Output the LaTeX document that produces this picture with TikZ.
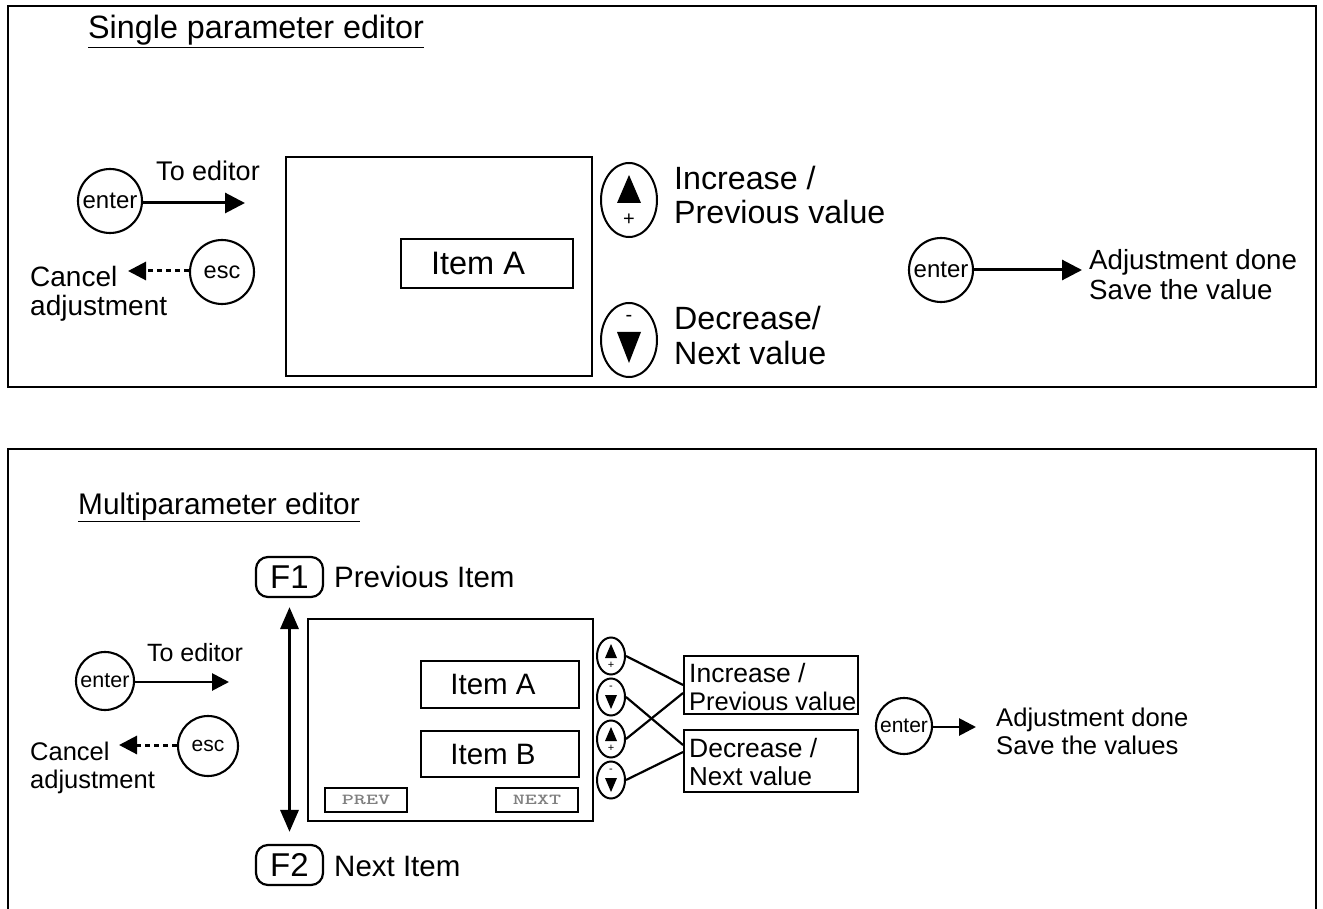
\documentclass[tikz,border=0pt]{standalone}
\usepackage{fontspec}
\setmainfont{Liberation Sans}
\usetikzlibrary{arrows.meta,shapes.geometric,calc}
\newcommand\fsz[2]{\fontsize{#1}{#2}\selectfont}
\begin{document}
\begin{tikzpicture}[x=1pt,y=-1pt,
  frame/.style={draw,line width=2.2pt},
  box/.style={draw,line width=1.9pt,inner sep=0pt},
  btn/.style={circle,draw,line width=2.1pt,inner sep=0pt},
  oval/.style={ellipse,draw,line width=2pt,inner sep=0pt},
  fkey/.style={draw,rounded corners=12pt,line width=2.2pt,inner sep=0pt,minimum width=67pt,minimum height=40pt},
  txt/.style={inner sep=0pt},
  arr/.style={line width=3pt,-{Triangle[length=20pt,width=20pt]}},
  sarr/.style={line width=2.8pt,-{Triangle[length=17pt,width=17pt]}},
  darr/.style={line width=3pt,dash pattern=on 5pt off 4pt,-{Triangle[length=18pt,width=18pt]}},
  dblarr/.style={line width=3.4pt,{Triangle[length=22pt,width=18pt]}-{Triangle[length=22pt,width=18pt]}},
  link/.style={line width=2.2pt},
  lcd/.style={draw,line width=1.5pt,minimum width=82pt,minimum height=24pt,inner sep=0pt,font=\ttfamily\bfseries\fsz{17}{17},text=black!50}
]
\useasboundingbox (0,0) rectangle (1323,909);
\fill[white] (0,0) rectangle (1323,909);

%% ---------------- Single parameter editor ----------------
\draw[frame] (8,6) rectangle (1316,387);
\node[txt,anchor=base west] (t1) at (88,39) {\fsz{32.3}{34}\underline{Single parameter editor}};

\node[btn,minimum size=64pt] (en1) at (110,201) {\fsz{24}{26}enter};
\coordinate (en1end) at (245,203);
\draw[arr] (en1.east |- en1end) -- (en1end);
\node[txt,anchor=base] (toed1) at (208,181) {\fsz{27}{29}To editor};

\node[btn,minimum size=64pt] (esc1) at (222,272) {\fsz{23.5}{25}esc};
\coordinate (esc1end) at (128,271);
\draw[darr] (esc1.west |- esc1end) -- (esc1end);
\node[txt,anchor=base west] (can1a) at (30,287) {\fsz{28}{30}Cancel};
\node[txt,anchor=base west] (can1b) at (30,316) {\fsz{28}{30}adjustment};

\node[box,anchor=north west,minimum width=306pt,minimum height=219pt] (scr1) at (285,156) {};
\node[box,minimum width=172pt,minimum height=49pt] (ia1) at (487,263.5) {\hspace*{-18pt}\fsz{32.5}{34}Item A};

\node[oval,minimum width=56pt,minimum height=74pt] (up1) at (629,200) {};
\fill ($(up1)+(-12,3)$) -- ($(up1)+(12,3)$) -- ($(up1)+(0,-25)$) -- cycle;
\node[txt] (up1p) at ($(up1)+(0,20)$) {\fsz{20}{20}+};
\node[oval,minimum width=56pt,minimum height=74pt] (dn1) at (629,340) {};
\fill ($(dn1)+(-12,-8)$) -- ($(dn1)+(12,-8)$) -- ($(dn1)+(0,23)$) -- cycle;
\node[txt] (dn1m) at ($(dn1)+(0,-22)$) {\fsz{20}{20}-};

\node[txt,anchor=base west] (inc1a) at (674,190) {\fsz{32.2}{34}Increase /};
\node[txt,anchor=base west] (inc1b) at (674,224) {\fsz{32.2}{34}Previous value};
\node[txt,anchor=base west] (dec1a) at (674,330) {\fsz{32.2}{34}Decrease/};
\node[txt,anchor=base west] (dec1b) at (674,364) {\fsz{32.2}{34}Next value};

\node[btn,minimum size=64pt] (en2) at (941,270) {\fsz{24}{26}enter};
\coordinate (en2end) at (1082,270);
\draw[arr] (en2) -- (en2end);
\node[txt,anchor=base west] (adj1a) at (1089,270) {\fsz{27.7}{30}Adjustment done};
\node[txt,anchor=base west] (adj1b) at (1089,300) {\fsz{27.7}{30}Save the value};

%% ---------------- Multiparameter editor ----------------
\draw[frame] (8,915) -- (8,449) -- (1316,449) -- (1316,915);
\node[txt,anchor=base west] (t2) at (78,514) {\fsz{29.8}{32}\underline{Multiparameter editor}};

\node[fkey] (f1) at (289.5,577) {\fsz{33}{34}F1};
\node[txt,anchor=base west] (prevI) at (334,587) {\fsz{29.5}{32}Previous Item};
\node[fkey] (f2) at (289.5,865) {\fsz{33}{34}F2};
\node[txt,anchor=base west] (nextI) at (334,876) {\fsz{29.5}{32}Next Item};
\draw[dblarr,shorten <=9pt,shorten >=12pt] (f1.south) -- (f2.north);

\node[btn,minimum size=58pt] (en3) at (105,681) {\fsz{21.5}{23}enter};
\coordinate (en3end) at (229,682);
\draw[sarr] (en3.east |- en3end) -- (en3end);
\node[txt,anchor=base] (toed2) at (195,661) {\fsz{25}{27}To editor};

\node[btn,minimum size=60pt] (esc2) at (208,746) {\fsz{21}{23}esc};
\coordinate (esc2end) at (119,745);
\draw[darr] (esc2.west |- esc2end) -- (esc2end);
\node[txt,anchor=base west] (can2a) at (30,760) {\fsz{25.5}{28}Cancel};
\node[txt,anchor=base west] (can2b) at (30,788) {\fsz{25.5}{28}adjustment};

\node[box,anchor=north west,minimum width=285pt,minimum height=202pt] (scr2) at (307,618) {};
\node[box,minimum width=158pt,minimum height=47pt] (ia2) at (500,684.5) {\hspace*{-14pt}\fsz{29.5}{32}Item A};
\node[box,minimum width=158pt,minimum height=46pt] (ib2) at (500,754) {\hspace*{-14pt}\fsz{29.5}{32}Item B};
\node[lcd] (prev) at (366,800) {\scalebox{1.35}[0.9]{PREV}};
\node[lcd] (next) at (537,800) {\scalebox{1.35}[0.9]{NEXT}};

\node[oval,minimum width=28pt,minimum height=37pt] (s1) at (611,656) {};
\node[oval,minimum width=28pt,minimum height=37pt] (s2) at (611,697) {};
\node[oval,minimum width=28pt,minimum height=37pt] (s3) at (611,739) {};
\node[oval,minimum width=28pt,minimum height=37pt] (s4) at (611,780) {};
\foreach \s in {s1,s3}{
  \fill ($(\s)+(-6,2)$) -- ($(\s)+(6,2)$) -- ($(\s)+(0,-12)$) -- cycle;
  \node[txt] at ($(\s)+(0,9.5)$) {\fsz{11}{11}+};
}
\foreach \s in {s2,s4}{
  \fill ($(\s)+(-6,-2)$) -- ($(\s)+(6,-2)$) -- ($(\s)+(0,12)$) -- cycle;
  \node[txt] at ($(\s)+(0,-9.5)$) {\fsz{11}{11}-};
}

\node[box,minimum width=174pt,minimum height=58pt] (inc2) at (771,685) {};
\node[box,minimum width=174pt,minimum height=62pt] (dec2) at (771,761) {};
\node[txt,anchor=base west] (inc2a) at (689,682) {\fsz{26.5}{28}Increase /};
\node[txt,anchor=base west] (inc2b) at (689,710) {\fsz{25.5}{28}Previous value};
\node[txt,anchor=base west] (dec2a) at (689,757) {\fsz{26.5}{28}Decrease /};
\node[txt,anchor=base west] (dec2b) at (689,785) {\fsz{26}{28}Next value};

\draw[link] (s1.east) -- ($(inc2.west)+(0,0)$);
\draw[link] (s3.east) -- ($(inc2.west)+(0,8)$);
\draw[link] (s2.east) -- ($(dec2.west)+(0,-16)$);
\draw[link] (s4.east) -- ($(dec2.west)+(0,-9)$);

\node[btn,minimum size=56pt] (en4) at (904,726) {\fsz{21}{23}enter};
\coordinate (en4end) at (976,727);
\draw[sarr] (en4.east |- en4end) -- (en4end);
\node[txt,anchor=base west] (adj2a) at (996,726) {\fsz{25.6}{28}Adjustment done};
\node[txt,anchor=base west] (adj2b) at (996,754) {\fsz{25.6}{28}Save the values};
\end{tikzpicture}
\end{document}
